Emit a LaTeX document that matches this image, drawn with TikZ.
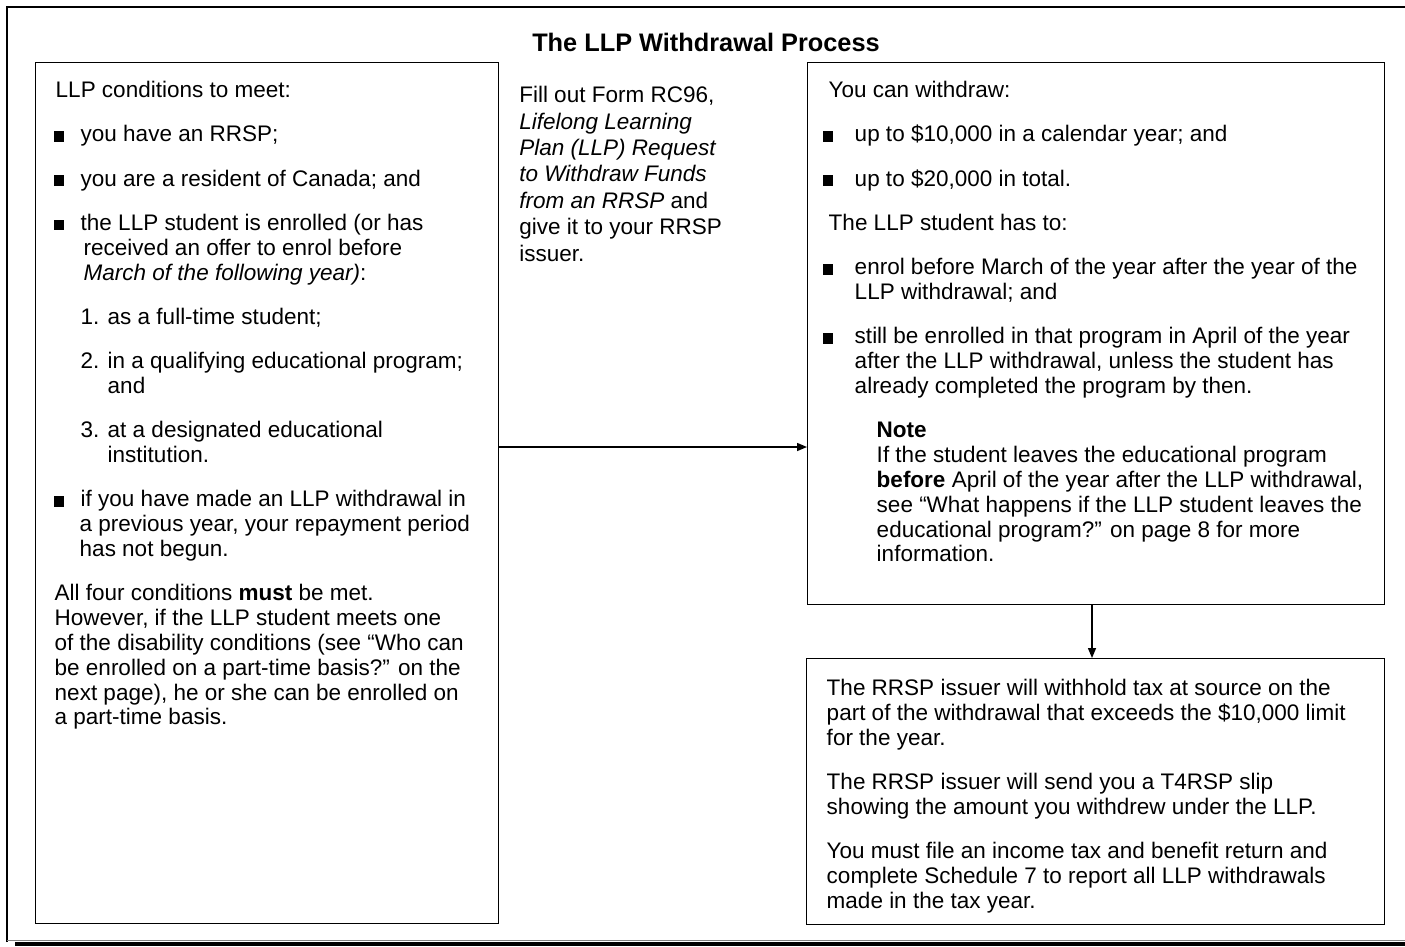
\documentclass[tikz,border=0pt]{standalone}
\usepackage{fontspec}
\setmainfont{Liberation Sans}
\usetikzlibrary{arrows.meta}
\newdimen\pxu \pxu=0.75pt
\newcommand\bodyfont{\fontsize{16.875}{18.65}\selectfont}
\newcommand\bul{\rule{8pt}{8pt}}
\newcommand\BL[2]{\hspace*{#1\pxu}\makebox[#2\pxu][l]{\bul}}
\newcommand\NL[2]{\hspace*{45\pxu}\makebox[27\pxu][l]{#1}#2}
\newcommand\IN[1]{\hspace*{#1\pxu}}
\newcommand\PG{\\[14.5pt]}
\begin{document}
\begin{tikzpicture}[x=0.75pt,y=-0.75pt,
  box/.style={draw, line width=1.1pt, inner sep=0pt, anchor=north west},
  conn/.style={line width=1.1pt, -{Triangle[length=7.5pt,width=6pt]}},
  frame/.style={line width=1.1pt}]
\useasboundingbox (0,0) rectangle (1405,946);

% outer frame
\draw[frame] (7,942) -- (7,7) -- (1405,7);
\draw[line width=0.6pt, gray] (7,940.5) -- (1405,940.5);
\draw[line width=3pt] (15,944) -- (1405,944);

% title
\node[font=\fontsize{19}{22}\selectfont\bfseries, anchor=base, inner sep=0pt] (title) at (706,51) {The LLP Withdrawal Process};

% left box: conditions
\node[box] (cond) at (35,62) {\parbox[c][861\pxu][t]{463\pxu}{\bodyfont\vspace*{13.2pt}%
\IN{20}\strut LLP conditions to meet:\PG
\BL{18}{27}you have an RRSP;\PG
\BL{18}{27}you are a resident of Canada; and\PG
\BL{18}{27}the LLP student is enrolled (or has\\
\IN{48}received an offer to enrol before\\
\IN{48}\textit{March of the following year)}:\PG
\NL{1.}{as a full-time student;}\PG
\NL{2.}{in a qualifying educational program;}\\
\IN{72}and\PG
\NL{3.}{at a designated educational}\\
\IN{72}institution.\PG
\BL{18}{27}if you have made an LLP withdrawal in\\
\IN{44}a previous year, your repayment period\\
\IN{44}has not begun.\PG
\IN{19}All four conditions \textbf{must} be met.\\
\IN{19}However, if the LLP student meets one\\
\IN{19}of the disability conditions (see “Who can\\
\IN{19}be enrolled on a part-time basis?” on the\\
\IN{19}next page), he or she can be enrolled on\\
\IN{19}a part-time basis.}};

% middle text
\node[anchor=north west, inner sep=0pt] (form) at (519,84) {\parbox[t]{270\pxu}{\fontsize{16.875}{19.8}\selectfont\strut Fill out Form RC96,\\
\textit{Lifelong Learning}\\
\textit{Plan (LLP) Request}\\
\textit{to Withdraw Funds}\\
\textit{from an RRSP} and\\
give it to your RRSP\\
issuer.}};

% right box 1: withdrawal
\node[box] (wd) at (807,62) {\parbox[c][542\pxu][t]{577\pxu}{\bodyfont\vspace*{13.2pt}%
\IN{21}\strut You can withdraw:\PG
\BL{15}{32}up to \$10,000 in a calendar year; and\PG
\BL{15}{32}up to \$20,000 in total.\PG
\IN{21}The LLP student has to:\PG
\BL{15}{32}enrol before March of the year after the year of the\\
\IN{47}LLP withdrawal; and\PG
\BL{15}{32}still be enrolled in that program in April of the year\\
\IN{47}after the LLP withdrawal, unless the student has\\
\IN{47}already completed the program by then.\PG
\IN{69}\textbf{Note}\\
\IN{69}If the student leaves the educational program\\
\IN{69}\textbf{before} April of the year after the LLP withdrawal,\\
\IN{69}see “What happens if the LLP student leaves the\\
\IN{69}educational program?” on page 8 for more\\
\IN{69}information.}};

% right box 2: tax
\node[box] (tax) at (806,658) {\parbox[c][266\pxu][t]{578\pxu}{\bodyfont\vspace*{14.4pt}%
\IN{20}\strut The RRSP issuer will withhold tax at source on the\\
\IN{20}part of the withdrawal that exceeds the \$10,000 limit\\
\IN{20}for the year.\PG
\IN{20}The RRSP issuer will send you a T4RSP slip\\
\IN{20}showing the amount you withdrew under the LLP.\PG
\IN{20}You must file an income tax and benefit return and\\
\IN{20}complete Schedule 7 to report all LLP withdrawals\\
\IN{20}made in the tax year.}};

% connectors
\coordinate (ay) at (0,447);
\coordinate (ax) at (1092,0);
\draw[conn] (cond.east |- ay) -- (wd.west |- ay);
\draw[conn] (wd.south -| ax) -- (tax.north -| ax);
\end{tikzpicture}
\end{document}
